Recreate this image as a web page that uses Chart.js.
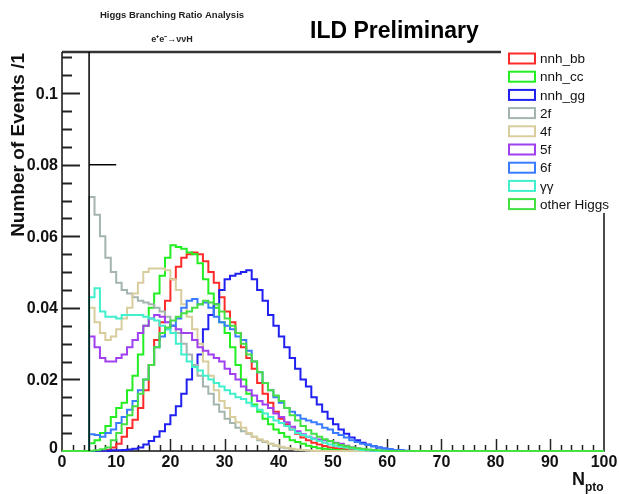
<!DOCTYPE html>
<html><head><meta charset="utf-8">
<script src="https://cdn.jsdelivr.net/npm/chart.js@4.4.0/dist/chart.umd.min.js"></script>
<style>html,body{margin:0;padding:0;background:#fff;overflow:hidden}canvas{display:block}</style>
</head><body><canvas id="c" width="619" height="494"></canvas>
<script>
// ---- data (bin width 1, values for bins starting at firstBin) ----
const firstBin = 5;
const nBins = 100;
const seriesLabels = ['nnh_bb','nnh_cc','nnh_gg','2f','4f','5f','6f','\u03b3\u03b3','other Higgs'];
const seriesColors = ['#ff2a2a','#22ee22','#2020f0','#a3b5ad','#d9cd9e','#a040f0','#3a7cff','#40f0cc','#44e044'];

const nnhBB = [0,0,0.0001,0.0003,0.001,0.002,0.004,0.0064,0.0087,0.012,
  0.017,0.024,0.031,0.036,0.042,0.048,0.0515,0.054,0.055,0.0555,
  0.055,0.053,0.050,0.047,0.043,0.039,0.036,0.033,0.029,0.026,
  0.023,0.019,0.016,0.0135,0.011,0.009,0.0075,0.006,0.0048,0.0038,
  0.003,0.0023,0.0018,0.0014,0.001,0.0008,0.0006,0.0004,0.0003,0.0002,0.0001];
const nnhCC = [0.0022,0.003,0.005,0.007,0.0095,0.012,0.0135,0.017,0.021,0.027,
  0.035,0.040,0.044,0.049,0.054,0.0575,0.057,0.0565,0.0555,0.055,
  0.0525,0.048,0.044,0.040,0.036,0.033,0.029,0.024,0.020,0.016,
  0.013,0.011,0.009,0.0075,0.006,0.005,0.004,0.003,0.0025,0.002,
  0.0015,0.0011,0.0008,0.0006,0.0004,0.0003,0.0002,0.0001];
const nnhGG = [0,0,0.0001,0.0001,0.0002,0.0002,0.0003,0.0004,0.0006,0.001,
  0.0018,0.0028,0.004,0.0055,0.0075,0.010,0.0125,0.016,0.020,0.024,
  0.027,0.034,0.038,0.041,0.045,0.048,0.049,0.0495,0.050,0.0505,
  0.048,0.045,0.042,0.038,0.035,0.032,0.029,0.026,0.023,0.020,
  0.018,0.015,0.013,0.011,0.009,0.0075,0.006,0.0048,0.0038,0.003,
  0.0023,0.0018,0.0013,0.001,0.0007,0.0005,0.0003,0.0002,0.0001];
const bg2f = [0.071,0.066,0.060,0.054,0.050,0.047,0.045,0.044,0.043,0.042,
  0.0415,0.041,0.040,0.039,0.0375,0.035,0.033,0.030,0.027,0.024,
  0.021,0.018,0.016,0.013,0.011,0.009,0.0078,0.0065,0.0055,0.0048,
  0.004,0.003,0.0025,0.002,0.0015,0.001,0.0008,0.0005,0.0003,0.0002,0.0001];
const bg4f = [0.040,0.036,0.033,0.031,0.032,0.034,0.037,0.040,0.044,0.047,
  0.050,0.051,0.051,0.051,0.0505,0.048,0.045,0.041,0.0375,0.034,
  0.030,0.025,0.021,0.017,0.014,0.012,0.0095,0.008,0.0065,0.005,
  0.004,0.0033,0.0027,0.002,0.0016,0.0012,0.0009,0.0006,0.0004,0.0003,0.0002,0.0001];
const bg5f = [0.032,0.029,0.026,0.025,0.025,0.026,0.027,0.029,0.031,0.033,
  0.035,0.037,0.038,0.0375,0.036,0.035,0.034,0.033,0.033,0.031,
  0.029,0.028,0.027,0.026,0.025,0.023,0.0215,0.020,0.018,0.017,
  0.0155,0.014,0.013,0.012,0.0105,0.0095,0.008,0.0068,0.0055,0.0047,
  0.004,0.0035,0.0032,0.003,0.0027,0.0023,0.002,0.0015,0.001,0.0007,
  0.0004,0.0002,0.0001];
const bg6f = [0.0047,0.0045,0.004,0.005,0.006,0.0078,0.0095,0.0115,0.014,0.017,
  0.020,0.024,0.029,0.032,0.034,0.035,0.037,0.040,0.042,0.0425,
  0.041,0.0415,0.040,0.0375,0.036,0.035,0.034,0.032,0.031,0.028,
  0.025,0.022,0.019,0.017,0.015,0.0135,0.012,0.011,0.010,0.009,
  0.0085,0.008,0.0075,0.0065,0.006,0.005,0.0045,0.0038,0.003,0.0025,
  0.002,0.0017,0.0013,0.001,0.0007,0.0005,0.0003,0.0002];
const bgGG = [0.043,0.0455,0.039,0.0375,0.0375,0.037,0.038,0.038,0.038,0.038,
  0.0375,0.037,0.0365,0.035,0.034,0.033,0.030,0.027,0.025,0.0235,
  0.0225,0.021,0.020,0.019,0.018,0.017,0.016,0.015,0.0145,0.0135,
  0.0125,0.0115,0.0105,0.0095,0.0085,0.0078,0.007,0.006,0.005,0.0045,
  0.004,0.0033,0.0028,0.0023,0.0018,0.0015,0.0012,0.001,0.0007,0.0005,
  0.0003,0.0002,0.0001];
const otherHiggs = [0.0001,0.0002,0.0005,0.001,0.003,0.005,0.0075,0.010,0.0125,0.016,
  0.020,0.024,0.029,0.033,0.0345,0.0365,0.0375,0.0385,0.039,0.040,
  0.041,0.042,0.0415,0.041,0.039,0.037,0.035,0.033,0.030,0.027,
  0.025,0.022,0.019,0.017,0.0155,0.014,0.012,0.010,0.0085,0.007,
  0.0058,0.0048,0.004,0.0033,0.0028,0.0022,0.0017,0.0013,0.001,0.0008,
  0.0006,0.0004,0.0003,0.0002,0.0001];
const seriesValues = [nnhBB, nnhCC, nnhGG, bg2f, bg4f, bg5f, bg6f, bgGG, otherHiggs];

const xTickValues = [0,10,20,30,40,50,60,70,80,90,100];
const xTickLabels = ['0','10','20','30','40','50','60','70','80','90','100'];
const yTickValues = [0,0.02,0.04,0.06,0.08,0.1];
const yTickLabels = ['0','0.02','0.04','0.06','0.08','0.1'];
const yMax = 0.1115;
const cutX = 5, cutArrowY = 0.08, cutArrowEnd = 10;

function histPoints(vals){
  const pts = [];
  for (let i = 0; i < nBins; i++) {
    const j = i - firstBin;
    const v = (j >= 0 && j < vals.length) ? vals[j] : 0;
    pts.push({x: i, y: v});
  }
  pts.push({x: nBins, y: pts[nBins-1].y});
  return pts;
}

const FONT = '"Liberation Sans", Arial, Helvetica, sans-serif';

const datasets = seriesValues.map((vals, k) => ({
  label: seriesLabels[k],
  data: histPoints(vals),
  borderColor: seriesColors[k],
  backgroundColor: seriesColors[k],
  borderWidth: 2,
  stepped: 'before',
  fill: false,
  pointRadius: 0,
  clip: 3,
  order: seriesValues.length - k
}));
datasets.push({label: '_cut', data: [{x: cutX, y: 0}, {x: cutX, y: yMax}], borderColor: '#000', borderWidth: 1.5, pointRadius: 0, fill: false, order: 0});
datasets.push({label: '_arrow', data: [{x: cutX, y: cutArrowY}, {x: cutArrowEnd, y: cutArrowY}], borderColor: '#000', borderWidth: 1.5, pointRadius: 0, fill: false, order: 0});

const decor = {
  id: 'decor',
  beforeDraw(chart) {
    const ctx = chart.ctx;
    ctx.save(); ctx.fillStyle = '#fff'; ctx.fillRect(0, 0, chart.width, chart.height); ctx.restore();
  },
  beforeDatasetsDraw(chart) {
    const {ctx, chartArea: a, scales: {x, y}} = chart;
    ctx.save();
    // frame
    ctx.strokeStyle = '#333'; ctx.lineWidth = 2.5;
    ctx.beginPath(); ctx.moveTo(a.left, a.top); ctx.lineTo(a.right, a.top); ctx.stroke();
    ctx.strokeStyle = '#111'; ctx.lineWidth = 1.5;
    ctx.beginPath();
    ctx.moveTo(a.left, a.top); ctx.lineTo(a.left, a.bottom); ctx.lineTo(a.right, a.bottom); ctx.lineTo(a.right, a.top);
    ctx.stroke();
    // y ticks
    ctx.strokeStyle = '#222'; ctx.lineWidth = 2;
    const nY = Math.floor(yMax / 0.005 + 1e-9);
    for (let i = 1; i <= nY; i++) {
      const py = Math.round(y.getPixelForValue(i * 0.005)) + 0.5;
      const len = (i % 4 === 0) ? 18 : 10;
      ctx.beginPath(); ctx.moveTo(a.left, py); ctx.lineTo(a.left + len, py); ctx.stroke();
    }
    // x ticks
    ctx.lineWidth = 1.5;
    for (let v = 2; v < 100; v += 2) {
      const px = Math.round(x.getPixelForValue(v)) + 0.5;
      const len = (v % 10 === 0) ? 12 : 6;
      ctx.beginPath(); ctx.moveTo(px, a.bottom); ctx.lineTo(px, a.bottom - len); ctx.stroke();
    }
    // tick labels
    ctx.fillStyle = '#111';
    ctx.font = 'bold 16px ' + FONT;
    ctx.textAlign = 'right'; ctx.textBaseline = 'middle';
    yTickValues.forEach((v, i) => {
      const py = y.getPixelForValue(v);
      ctx.fillText(yTickLabels[i], 58, i === 0 ? py - 2 : py + 1);
    });
    ctx.textAlign = 'center'; ctx.textBaseline = 'top';
    xTickValues.forEach((v, i) => {
      ctx.fillText(xTickLabels[i], x.getPixelForValue(v), 455);
    });
    // axis titles
    ctx.save();
    ctx.translate(19, a.top + 1);
    ctx.rotate(-Math.PI / 2);
    ctx.textAlign = 'right'; ctx.textBaseline = 'middle';
    ctx.font = 'bold 17px ' + FONT;
    const yTitle = 'Number of Events /1';
    const w = ctx.measureText(yTitle).width;
    const fs = 17 * 184 / w;
    ctx.font = 'bold ' + fs.toFixed(2) + 'px ' + FONT;
    ctx.fillText(yTitle, 0, 0);
    ctx.restore();
    ctx.textAlign = 'left'; ctx.textBaseline = 'alphabetic';
    ctx.font = 'bold 18px ' + FONT;
    ctx.fillText('N', 572, 485);
    ctx.font = 'bold 12px ' + FONT;
    ctx.fillText('pto', 585, 491);
    // titles
    ctx.textAlign = 'center';
    ctx.font = 'bold 9.5px ' + FONT;
    ctx.fillStyle = '#222';
    ctx.fillText('Higgs Branching Ratio Analysis', 172, 18);
    ctx.font = 'bold 9px ' + FONT;
    ctx.fillText('e\u207Ae\u207B\u2192\u03bd\u03bdH', 172, 42);
    ctx.fillStyle = '#000';
    ctx.textAlign = 'left';
    ctx.font = 'bold 23px ' + FONT;
    ctx.fillText('ILD Preliminary', 310, 38);
    ctx.restore();
  },
  afterDraw(chart) {
    const ctx = chart.ctx;
    ctx.save();
    ctx.fillStyle = '#fff';
    ctx.fillRect(501, 45, 118, 168);
    ctx.font = '13.5px ' + FONT;
    ctx.textAlign = 'left'; ctx.textBaseline = 'middle';
    chart.data.datasets.forEach((ds, i) => {
      if (ds.label.startsWith('_')) return;
      const cy = 58.5 + 18.2 * i;
      ctx.strokeStyle = ds.borderColor; ctx.lineWidth = 2;
      ctx.strokeRect(509, cy - 5, 26, 10);
      ctx.fillStyle = '#111';
      ctx.fillText(ds.label, 540, cy + 1);
    });
    ctx.restore();
  }
};

new Chart(document.getElementById('c'), {
  type: 'line',
  data: {datasets},
  options: {
    responsive: false,
    animation: false,
    devicePixelRatio: 1,
    layout: {padding: {left: 62, right: 15, top: 52, bottom: 43}},
    plugins: {legend: {display: false}, tooltip: {enabled: false}},
    scales: {
      x: {type: 'linear', min: 0, max: 100, display: false},
      y: {type: 'linear', min: 0, max: yMax, display: false}
    }
  },
  plugins: [decor]
});
</script>
</body></html>
